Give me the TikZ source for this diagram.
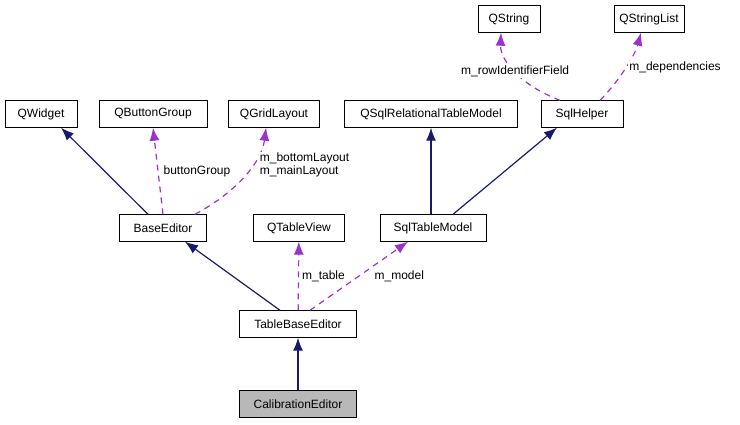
\documentclass[tikz,border=0pt]{standalone}
\usepackage{fontspec}
\setmainfont{Liberation Sans}
\usetikzlibrary{arrows.meta,positioning}
\definecolor{inhcol}{HTML}{191970}
\definecolor{usecol}{HTML}{9A32CD}
\begin{document}
\begin{tikzpicture}[x=1pt,y=-1pt,font=\fontsize{12}{13.5}\selectfont]
    \tikzset{cls/.style={draw,black,fill=white,minimum height=27pt,inner sep=3pt}}
    \tikzset{inh/.style={draw=inhcol,line width=1.2pt,-{Latex[length=13pt,width=10pt,fill=inhcol]}}}
    \tikzset{use/.style={draw=usecol,line width=1.2pt,dash pattern=on 6pt off 5pt,-{Latex[length=13pt,width=10pt,fill=usecol]}}}
    \tikzset{lbl/.style={fill=white,inner sep=1pt,align=left}}
    \useasboundingbox (0,0) rectangle (740,424);
    \node [cls,minimum width=62pt] (str) at (509,19) {QString};
    \node [cls,minimum width=70pt] (strl) at (649,19) {QStringList};
    \node [cls,minimum width=72pt] (wid) at (41,114) {QWidget};
    \node [cls,minimum width=108pt] (bgrp) at (153,114) {QButtonGroup};
    \node [cls,minimum width=91pt] (grid) at (274,114) {QGridLayout};
    \node [cls,minimum width=173pt] (qsql) at (431,114) {QSqlRelationalTableModel};
    \node [cls,minimum width=82pt] (help) at (582,114) {SqlHelper};
    \node [cls,minimum width=87pt] (base) at (163,228) {BaseEditor};
    \node [cls,minimum width=91pt] (view) at (299,228) {QTableView};
    \node [cls,minimum width=106pt] (model) at (433,228) {SqlTableModel};
    \node [cls,minimum width=117pt] (tbase) at (298,324) {TableBaseEditor};
    \node [cls,minimum width=117pt,fill=black!28] (calib) at (298,404) {CalibrationEditor};
    % anchor points
    \path (tbase.north) ++(-18,0) coordinate (t1);
    \path (tbase.north) ++(12,0) coordinate (t2);
    \path (base.south) ++(22,0) coordinate (b1);
    \path (base.north) ++(-15,0) coordinate (b2);
    \path (base.north) ++(32,0) coordinate (b4);
    \path (wid.south) ++(20,0) coordinate (w1);
    \path (model.north) ++(-2,0) coordinate (m1);
    \path (model.north) ++(20,0) coordinate (m2);
    \path (model.south) ++(-25,0) coordinate (m3);
    \path (help.south) ++(-25,0) coordinate (h1);
    \path (help.north) ++(-22,0) coordinate (h2);
    \path (help.north) ++(18,0) coordinate (h3);
    \path (grid.south) ++(-8,0) coordinate (g1);
    \path (str.south) ++(-8,0) coordinate (s1);
    \path (strl.south) ++(-8,0) coordinate (s2);
    % inheritance
    \draw [inh] (calib) -- (tbase);
    \draw [inh] (t1) -- (b1);
    \draw [inh] (b2) -- (w1);
    \draw [inh] (m1) -- (qsql.south);
    \draw [inh] (m2) -- (h1);
    % usage
    \draw [use] (tbase) -- node [lbl,right=2pt] {m\_table} (view);
    \draw [use] (t2) -- node [lbl,right=14pt] {m\_model} (m3);
    \draw [use] (base.north) -- node [lbl,right=4pt] {buttonGroup} (bgrp.south);
    \draw [use] (b4) .. controls (240,190) and (262,160) .. node [lbl,right=6pt,pos=0.6] {m\_bottomLayout\\m\_mainLayout} (g1);
    \draw [use] (h2) .. controls (520,85) and (500,60) .. node [lbl,pos=0.5] {m\_rowIdentifierField} (s1);
    \draw [use] (h3) .. controls (620,80) and (635,55) .. node [lbl,right=2pt] {m\_dependencies} (s2);
\end{tikzpicture}
\end{document}
